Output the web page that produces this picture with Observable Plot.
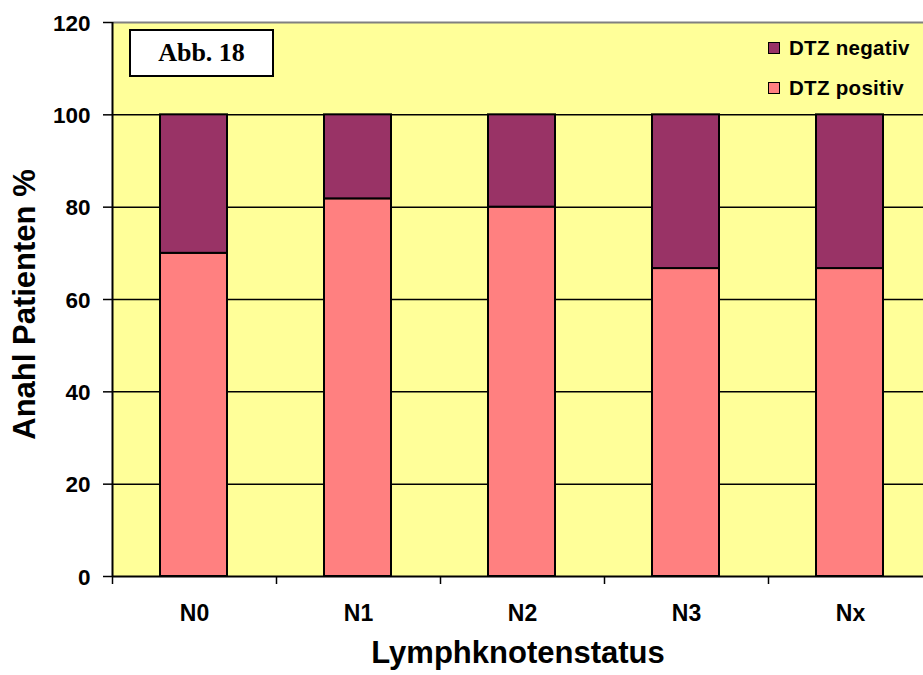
<!DOCTYPE html>
<html>
<head>
<meta charset="utf-8">
<script src="https://cdn.jsdelivr.net/npm/d3@7"></script>
<script src="https://cdn.jsdelivr.net/npm/@observablehq/plot@0.6"></script>
<style>
  html, body { margin: 0; padding: 0; background: #fff; }
  #wrap { position: relative; width: 923px; height: 675px; font-family: "Liberation Sans", Arial, sans-serif; }
  #abb { position: absolute; left: 129px; top: 29px; width: 141px; height: 44px; border: 2px solid #000; background: #fff;
         font-family: "Liberation Serif", "Times New Roman", serif; font-weight: bold; font-size: 26px;
         display: flex; align-items: center; justify-content: center; }
  .leg { position: absolute; left: 768px; display: flex; align-items: center; font-weight: bold; font-size: 20.5px; letter-spacing: 0.3px; color: #000; }
  .leg span.sw { display: inline-block; width: 10px; height: 10px; border: 1.5px solid #000; margin-right: 9px; }
</style>
</head>
<body>
<div id="wrap">
  <div id="chart"></div>
  <div id="abb">Abb. 18</div>
  <div id="legend"></div>
</div>
<script>
// Lymph node status categories and share of patients (%)
const categories = ["N0", "N1", "N2", "N3", "Nx"];
const positiv = [70, 81.8, 80, 66.7, 66.7];
const negativ = [30, 18.2, 20, 33.3, 33.3];
const yTicks = [0, 20, 40, 60, 80, 100, 120];

const seriesNames = ["DTZ negativ", "DTZ positiv"];
const seriesColors = ["#993366", "#FF8080"];

// stacked segments: positive at the bottom, negative above it
const rows = [];
categories.forEach((c, i) => {
  rows.push({i, series: "DTZ positiv", y1: 0, y2: positiv[i]});
  rows.push({i, series: "DTZ negativ", y1: positiv[i], y2: positiv[i] + negativ[i]});
});

const font = "'Liberation Sans', Arial, sans-serif";

const chart = Plot.plot({
  width: 923,
  height: 675,
  marginLeft: 112,
  marginRight: 0,
  marginTop: 22,
  marginBottom: 99,
  style: {fontFamily: font, fontWeight: "bold", color: "#000", background: "#fff", overflow: "visible"},
  x: {domain: [0, categories.length], range: [112, 932]},
  y: {domain: [0, 120]},
  color: {domain: seriesNames, range: seriesColors},
  marks: [
    Plot.frame({fill: "#FFFF99", stroke: null}),
    Plot.ruleY([20, 40, 60, 80, 100], {stroke: "#000", strokeWidth: 1.5}),
    Plot.ruleY([120], {stroke: "#808080", strokeWidth: 2}),
    Plot.rectY(rows, {
      x1: "i", x2: d => d.i + 1, y1: "y1", y2: "y2",
      fill: "series", stroke: "#000", strokeWidth: 2, insetLeft: 48, insetRight: 49
    }),
    Plot.ruleY([0], {stroke: "#000", strokeWidth: 2}),
    Plot.ruleX([0], {stroke: "#000", strokeWidth: 2}),
    // y axis: tick lines plus larger bold tick labels
    Plot.axisY({ticks: yTicks, tickSize: 9, tickFormat: () => "", stroke: "#000", strokeWidth: 1.5, label: null}),
    Plot.text(yTicks, {y: d => d, frameAnchor: "left", textAnchor: "end", dx: -22, dy: 1, fontSize: 22.5, fontWeight: "bold", fill: "#000"}),
    // x axis: ticks at category boundaries, labels centred in each category
    Plot.axisX({ticks: d3.range(categories.length + 1), tickSize: 8, tickFormat: () => "", stroke: "#000", strokeWidth: 1.5, label: null}),
    Plot.text(categories, {x: (d, i) => i + 0.5, frameAnchor: "bottom", dy: 44, fontSize: 23, fontWeight: "bold", fill: "#000"}),
    Plot.text(["Lymphknotenstatus"], {frameAnchor: "bottom", dy: 86, fontSize: 31, fontWeight: "bold", fill: "#000"}),
    Plot.text(["Anahl Patienten %"], {frameAnchor: "left", textAnchor: "middle", rotate: -90, dx: -87, dy: 5, fontSize: 31, fontWeight: "bold", fill: "#000"})
  ]
});
document.getElementById("chart").appendChild(chart);

// legend inside the plot area, top right
const legend = document.getElementById("legend");
seriesNames.forEach((name, k) => {
  const el = document.createElement("div");
  el.className = "leg";
  el.style.top = (36 + k * 40) + "px";
  el.innerHTML = `<span class="sw" style="background:${seriesColors[k]}"></span>${name}`;
  legend.appendChild(el);
});
</script>
</body>
</html>
